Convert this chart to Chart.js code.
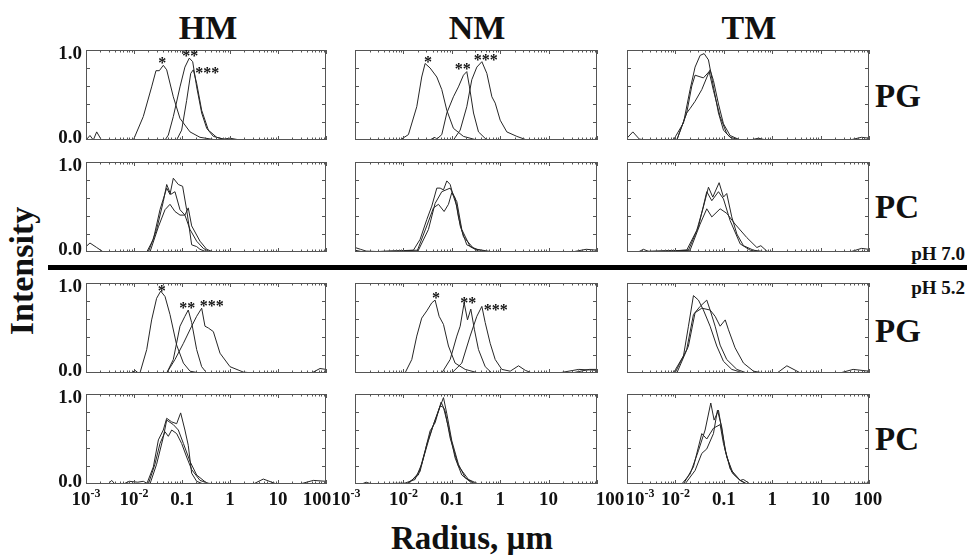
<!DOCTYPE html>
<html>
<head>
<meta charset="utf-8">
<script src="https://cdn.jsdelivr.net/npm/chart.js@4/dist/chart.umd.min.js"></script>
<style>
body { margin:0; background:#fff; }
#fig { position:relative; width:967px; height:555px; overflow:hidden; font-family:"Liberation Serif","Times New Roman",serif; font-weight:bold; color:#111; }
#fig canvas { position:absolute; }
.lbl { position:absolute; transform:translate(-50%,-50%); white-space:nowrap; line-height:1; }
.side { position:absolute; transform:translate(0,-50%); white-space:nowrap; line-height:1; font-size:33px; }
.ph { position:absolute; right:2px; transform:translate(0,-50%); white-space:nowrap; line-height:1; font-size:19px; }
</style>
</head>
<body>
<div id="fig">
  <div class="lbl" style="left:208px;top:28px;font-size:34px">HM</div>
  <div class="lbl" style="left:477px;top:28px;font-size:34px">NM</div>
  <div class="lbl" style="left:749px;top:28px;font-size:34px">TM</div>
  <div class="side" style="left:875px;top:96px">PG</div>
  <div class="side" style="left:875px;top:207px">PC</div>
  <div class="side" style="left:875px;top:331px">PG</div>
  <div class="side" style="left:875px;top:439px">PC</div>
  <div class="ph" style="top:253px">pH 7.0</div>
  <div class="ph" style="top:287px">pH 5.2</div>
  <div style="position:absolute;left:48px;top:265px;width:919px;height:5px;background:#000"></div>
  <div class="lbl" style="left:22px;top:271px;font-size:34px;transform:translate(-50%,-50%) rotate(-90deg)">Intensity</div>
  <div class="lbl" style="left:472px;top:538px;font-size:33px">Radius, µm</div>
</div>
<script>
// radius (um) vs intensity
// pH 7.0
const hmPg7a = [[0.001,0],[0.00121,0.05],[0.00142,0],[0.00167,0.09],[0.0021,0],[0.0097,0],[0.0156,0.26],[0.0233,0.59],[0.0287,0.77],[0.0337,0.77],[0.0408,0.83],[0.048,0.78],[0.0659,0.48],[0.0908,0.24],[0.147,0.09],[0.237,0.03],[0.527,0],[100,0]];
const hmPg7b = [[0.001,0],[0.0443,0],[0.0519,0.055],[0.0659,0.26],[0.0908,0.59],[0.115,0.81],[0.142,0.91],[0.167,0.87],[0.202,0.59],[0.257,0.30],[0.327,0.13],[0.45,0.04],[0.853,0],[100,0]];
const hmPg7c = [[0.001,0],[0.0774,0],[0.0984,0.11],[0.125,0.44],[0.152,0.74],[0.172,0.78],[0.202,0.63],[0.257,0.33],[0.354,0.11],[0.527,0.03],[0.726,0.01],[1.0,0.02],[1.61,0],[100,0]];

const nmPg7a = [[0.001,0],[0.00853,0],[0.0127,0.06],[0.0189,0.37],[0.0239,0.70],[0.0281,0.85],[0.0356,0.80],[0.049,0.70],[0.0621,0.56],[0.0789,0.33],[0.108,0.13],[0.174,0.04],[0.329,0],[100,0]];
const nmPg7b = [[0.001,0],[0.035,0],[0.045,0.03],[0.049,0.01],[0.0621,0.06],[0.0789,0.30],[0.108,0.48],[0.137,0.59],[0.174,0.72],[0.204,0.76],[0.232,0.59],[0.281,0.30],[0.356,0.09],[0.53,0],[100,0]];
const nmPg7c = [[0.001,0],[0.108,0],[0.149,0.11],[0.204,0.37],[0.259,0.67],[0.329,0.81],[0.418,0.87],[0.53,0.74],[0.673,0.48],[0.789,0.41],[1.0,0.22],[1.37,0.09],[2.21,0.04],[3.56,0],[100,0]];

const tmPg7a = [[0.001,0.02],[0.00132,0.09],[0.0018,0.01],[0.0025,0],[0.0091,0],[0.0147,0.19],[0.0201,0.56],[0.0255,0.81],[0.0324,0.94],[0.0392,0.96],[0.0482,0.89],[0.0611,0.59],[0.0776,0.30],[0.0984,0.11],[0.135,0.03],[0.218,0],[100,0]];
const tmPg7b = [[0.001,0],[0.0107,0],[0.0171,0.30],[0.0218,0.60],[0.0255,0.72],[0.0379,0.69],[0.0498,0.76],[0.0611,0.55],[0.084,0.26],[0.115,0.07],[0.158,0],[0.35,0],[0.52,0.02],[0.75,0],[40,0],[70,0.03],[100,0.02]];
const tmPg7c = [[0.001,0],[0.0107,0],[0.0171,0.30],[0.0201,0.35],[0.0255,0.43],[0.0351,0.56],[0.0482,0.74],[0.0521,0.78],[0.0611,0.66],[0.0776,0.40],[0.0984,0.18],[0.135,0.05],[0.218,0],[100,0]];

const hmPc7a = [[0.001,0.06],[0.00121,0.10],[0.00167,0.05],[0.0023,0],[0.0184,0],[0.0253,0.14],[0.0348,0.47],[0.048,0.71],[0.0562,0.64],[0.0659,0.82],[0.0839,0.75],[0.103,0.73],[0.125,0.47],[0.159,0.08],[0.202,0.06],[0.237,0.03],[0.327,0],[100,0]];
const hmPc7b = [[0.001,0],[0.0199,0],[0.0296,0.25],[0.0408,0.56],[0.048,0.75],[0.0581,0.64],[0.0714,0.67],[0.0908,0.47],[0.115,0.41],[0.135,0.49],[0.159,0.29],[0.237,0.12],[0.327,0.03],[0.45,0],[60,0],[100,0.01]];
const hmPc7c = [[0.001,0],[0.0215,0],[0.0322,0.28],[0.0443,0.47],[0.0562,0.53],[0.0714,0.45],[0.0908,0.41],[0.115,0.41],[0.147,0.25],[0.202,0.12],[0.278,0.04],[0.383,0],[100,0]];

const nmPc7a = [[0.001,0.05],[0.0013,0.03],[0.0017,0.01],[0.003,0.005],[0.0161,0.02],[0.0221,0.14],[0.0304,0.36],[0.0386,0.51],[0.049,0.71],[0.0574,0.71],[0.0673,0.69],[0.0789,0.79],[0.0925,0.75],[0.108,0.62],[0.127,0.51],[0.149,0.29],[0.204,0.08],[0.329,0.03],[0.728,0],[100,0]];
const nmPc7b = [[0.001,0],[0.0189,0],[0.0304,0.29],[0.0418,0.49],[0.053,0.53],[0.0694,0.45],[0.0853,0.53],[0.1,0.66],[0.127,0.56],[0.161,0.25],[0.239,0.06],[0.386,0],[30,0],[60,0.03],[100,0.02]];
const nmPc7c = [[0.001,0.02],[0.0015,0],[0.0204,0.02],[0.0329,0.25],[0.0452,0.54],[0.0621,0.67],[0.0925,0.71],[0.117,0.60],[0.137,0.39],[0.174,0.17],[0.281,0.04],[0.53,0],[100,0]];

const tmPc7a = [[0.001,0],[0.0017,0],[0.00218,0.03],[0.003,0],[0.0171,0.02],[0.0276,0.24],[0.0379,0.50],[0.0482,0.72],[0.0592,0.61],[0.080,0.77],[0.0984,0.61],[0.115,0.65],[0.146,0.39],[0.186,0.20],[0.255,0.07],[0.411,0.02],[0.776,0],[100,0]];
const tmPc7b = [[0.001,0],[0.0186,0.02],[0.0299,0.28],[0.0445,0.67],[0.0565,0.57],[0.0776,0.67],[0.0984,0.59],[0.135,0.35],[0.218,0.09],[0.351,0.02],[0.565,0],[40,0],[70,0.04],[100,0.03]];
const tmPc7c = [[0.001,0],[0.0201,0.02],[0.0324,0.31],[0.0445,0.48],[0.0565,0.39],[0.084,0.48],[0.115,0.43],[0.171,0.31],[0.299,0.16],[0.482,0.05],[0.583,0.07],[0.776,0.01],[0.881,0],[100,0]];

// pH 5.2
const hmPg5a = [[0.001,0],[0.0089,0],[0.0105,0.03],[0.0123,0],[0.0133,0],[0.0184,0.26],[0.0233,0.59],[0.0296,0.83],[0.036,0.91],[0.0443,0.85],[0.0562,0.65],[0.0774,0.31],[0.107,0.11],[0.147,0.02],[0.237,0],[100,0]];
const hmPg5b = [[0.001,0],[0.048,0],[0.0659,0.15],[0.0908,0.52],[0.115,0.63],[0.135,0.70],[0.159,0.56],[0.202,0.26],[0.257,0.07],[0.327,0],[100,0]];
const hmPg5c = [[0.001,0],[0.048,0],[0.0714,0.15],[0.107,0.33],[0.159,0.52],[0.202,0.63],[0.257,0.72],[0.301,0.52],[0.354,0.50],[0.45,0.46],[0.619,0.22],[1.0,0.07],[1.9,0.01],[3.06,0],[50,0],[75,0.05],[100,0.04]];

const nmPg5a = [[0.001,0],[0.0108,0],[0.0149,0.15],[0.0189,0.41],[0.0239,0.61],[0.0304,0.69],[0.0386,0.78],[0.0452,0.81],[0.0547,0.63],[0.0673,0.54],[0.0853,0.30],[0.117,0.11],[0.189,0.04],[0.356,0],[100,0]];
const nmPg5b = [[0.001,0],[0.0621,0],[0.0925,0.15],[0.127,0.41],[0.149,0.52],[0.180,0.78],[0.211,0.59],[0.247,0.71],[0.294,0.48],[0.356,0.26],[0.49,0.07],[0.673,0],[16,0],[42,0.04],[100,0.03]];
const nmPg5c = [[0.001,0],[0.1,0],[0.161,0.11],[0.239,0.41],[0.329,0.63],[0.418,0.74],[0.49,0.56],[0.621,0.33],[0.789,0.15],[1.08,0.04],[1.61,0.02],[2.39,0.08],[3.29,0.03],[4.52,0],[30,0],[70,0.04],[100,0.04]];

const tmPg5a = [[0.001,0],[0.0091,0],[0.0147,0.19],[0.0186,0.52],[0.0236,0.86],[0.0299,0.81],[0.0379,0.70],[0.0521,0.52],[0.0716,0.30],[0.0984,0.13],[0.146,0.04],[0.255,0],[100,0]];
const tmPg5b = [[0.001,0],[0.0098,0],[0.0171,0.26],[0.0236,0.65],[0.0324,0.74],[0.0445,0.81],[0.0521,0.70],[0.0662,0.52],[0.084,0.31],[0.115,0.15],[0.186,0.04],[0.299,0],[1.26,0],[2.01,0.08],[3.85,0],[25,0],[47,0.04],[100,0.02]];
const tmPg5c = [[0.001,0],[0.0107,0],[0.0186,0.30],[0.0255,0.67],[0.0351,0.72],[0.0521,0.70],[0.0662,0.63],[0.084,0.52],[0.107,0.59],[0.125,0.48],[0.171,0.28],[0.255,0.11],[0.411,0.02],[0.662,0],[100,0]];

const hmPc5a = [[0.001,0],[0.0029,0],[0.00343,0.04],[0.004,0],[0.0184,0],[0.0253,0.19],[0.0322,0.49],[0.0408,0.60],[0.048,0.73],[0.061,0.69],[0.0774,0.67],[0.0938,0.79],[0.115,0.60],[0.135,0.43],[0.159,0.12],[0.202,0.03],[0.278,0],[100,0]];
const hmPc5b = [[0.001,0],[0.006,0],[0.008,0.03],[0.012,0.02],[0.0156,0.03],[0.0199,0],[0.0273,0.22],[0.0348,0.45],[0.0443,0.58],[0.0519,0.53],[0.061,0.60],[0.0774,0.56],[0.0984,0.45],[0.125,0.30],[0.159,0.16],[0.237,0.04],[0.383,0],[3.06,0],[4.94,0.055],[9.38,0],[100,0]];
const hmPc5c = [[0.001,0],[0.0215,0],[0.0296,0.22],[0.0408,0.52],[0.048,0.71],[0.0659,0.66],[0.0839,0.60],[0.107,0.45],[0.147,0.25],[0.202,0.10],[0.327,0.01],[0.5,0],[28.7,0],[54.5,0.04],[100,0.03]];

const nmPc5a = [[0.001,0],[0.00138,0],[0.0017,0.02],[0.0022,0],[0.0108,0.01],[0.0174,0.05],[0.0239,0.22],[0.0329,0.48],[0.0418,0.66],[0.053,0.81],[0.0673,0.96],[0.0789,0.78],[0.1,0.48],[0.137,0.22],[0.189,0.07],[0.304,0],[100,0]];
const nmPc5b = [[0.001,0],[0.0117,0],[0.0204,0.10],[0.0281,0.37],[0.0356,0.59],[0.0452,0.68],[0.0601,0.91],[0.0728,0.81],[0.0925,0.51],[0.137,0.20],[0.221,0.05],[0.356,0],[100,0]];
const nmPc5c = [[0.001,0],[0.0127,0],[0.0221,0.14],[0.0304,0.44],[0.0418,0.66],[0.0574,0.87],[0.0673,0.85],[0.0853,0.63],[0.117,0.29],[0.161,0.10],[0.259,0.01],[0.4,0],[100,0]];

const tmPc5a = [[0.001,0],[0.0135,0],[0.0201,0.11],[0.0299,0.37],[0.0411,0.60],[0.0538,0.90],[0.0631,0.71],[0.0776,0.82],[0.091,0.60],[0.115,0.30],[0.158,0.11],[0.218,0.04],[0.299,0],[100,0]];
const tmPc5b = [[0.001,0],[0.0147,0],[0.0236,0.19],[0.0351,0.56],[0.0445,0.50],[0.0611,0.62],[0.084,0.66],[0.0984,0.45],[0.135,0.17],[0.218,0.04],[0.299,0],[47,0],[100,0.01]];
const tmPc5c = [[0.001,0],[0.0158,0],[0.0255,0.15],[0.0351,0.34],[0.0445,0.39],[0.0611,0.56],[0.0739,0.82],[0.091,0.63],[0.107,0.37],[0.146,0.13],[0.218,0.04],[0.255,0.05],[0.351,0],[100,0]];

// axis ticks
const xTickValues = [0.001, 0.01, 0.1, 1, 10, 100];
const xTickText = ['10', '10', '0.1', '1', '10', '100'];
const xTickExp = ['-3', '-2', '', '', '', ''];
const yTickValues = [0, 1];
const yTickText = ['0.0', '1.0'];

// layout
const COLS = [{left: 86, width: 240}, {left: 355, width: 242}, {left: 627, width: 242}];
const ROWS = [{top: 50, height: 90}, {top: 162, height: 90}, {top: 283, height: 90}, {top: 394, height: 90}];
const PAD = {left: 52, right: 40, top: 8, bottom: 30};
const edgeShift = [[0, -9], [-9, 13], [13, -1]];
const FONT = '"Liberation Serif","Times New Roman",serif';

const grid = [
  [[hmPg7a, hmPg7b, hmPg7c], [nmPg7a, nmPg7b, nmPg7c], [tmPg7a, tmPg7b, tmPg7c]],
  [[hmPc7a, hmPc7b, hmPc7c], [nmPc7a, nmPc7b, nmPc7c], [tmPc7a, tmPc7b, tmPc7c]],
  [[hmPg5a, hmPg5b, hmPg5c], [nmPg5a, nmPg5b, nmPg5c], [tmPg5a, tmPg5b, tmPg5c]],
  [[hmPc5a, hmPc5b, hmPc5c], [nmPc5a, nmPc5b, nmPc5c], [tmPc5a, tmPc5b, tmPc5c]]
];

// asterisk marks: [text, series, dx, dy] relative to the series peak
const stars = {
  '0-0': [['*', 0, -1, -5], ['**', 1, 1, -5], ['***', 2, 14, 0]],
  '0-1': [['*', 0, 3, -4], ['**', 1, -4, -5], ['***', 2, 4, -4]],
  '2-0': [['*', 0, 1, -3], ['**', 1, -1, -5], ['***', 2, 10, -5]],
  '2-1': [['*', 0, 1, -5], ['**', 1, 4, -3], ['***', 2, 14, 1]]
};

function drawXLabels(chart, col) {
  const ctx = chart.ctx, a = chart.chartArea, xs = chart.scales.x;
  ctx.save();
  ctx.fillStyle = '#111';
  ctx.textAlign = 'left';
  ctx.textBaseline = 'alphabetic';
  for (let i = 0; i < xTickValues.length; i++) {
    ctx.font = 'bold 19px ' + FONT;
    const w1 = ctx.measureText(xTickText[i]).width;
    ctx.font = 'bold 12px ' + FONT;
    const w2 = xTickExp[i] ? ctx.measureText(xTickExp[i]).width : 0;
    let shift = 0;
    if (i === 0) shift = edgeShift[col][0];
    if (i === xTickValues.length - 1) shift = edgeShift[col][1];
    const x0 = xs.getPixelForValue(xTickValues[i]) - (w1 + w2) / 2 + shift;
    ctx.font = 'bold 19px ' + FONT;
    ctx.fillText(xTickText[i], x0, a.bottom + 21);
    if (xTickExp[i]) {
      ctx.font = 'bold 12px ' + FONT;
      ctx.fillText(xTickExp[i], x0 + w1, a.bottom + 13);
    }
  }
  ctx.restore();
}

const framePlugin = {
  id: 'frame',
  afterDraw(chart) {
    const cfg = chart.config.options.frameCfg;
    const ctx = chart.ctx, a = chart.chartArea;
    const xs = chart.scales.x, ys = chart.scales.y;
    ctx.save();
    ctx.strokeStyle = '#555';
    ctx.lineWidth = 1;
    ctx.strokeRect(a.left + 0.5, a.top + 0.5, a.right - a.left - 1, a.bottom - a.top - 1);
    ctx.beginPath();
    for (let d = -3; d <= 2; d++) {
      for (let k = 1; k <= 9; k++) {
        const v = k * Math.pow(10, d);
        if (v > 100.001) break;
        const px = Math.round(xs.getPixelForValue(v)) + 0.5;
        const len = k === 1 ? 4 : 2.5;
        ctx.moveTo(px, a.top); ctx.lineTo(px, a.top + len);
        ctx.moveTo(px, a.bottom); ctx.lineTo(px, a.bottom - len);
      }
    }
    [0.2, 0.4, 0.6, 0.8].forEach(v => {
      const py = Math.round(ys.getPixelForValue(v)) + 0.5;
      ctx.moveTo(a.left, py); ctx.lineTo(a.left + 4, py);
      ctx.moveTo(a.right, py); ctx.lineTo(a.right - 4, py);
    });
    ctx.stroke();
    ctx.restore();

    if (cfg.showX) drawXLabels(chart, cfg.col);

    ctx.save();
    ctx.fillStyle = '#111';
    if (cfg.showY) {
      ctx.font = 'bold 19px ' + FONT;
      ctx.textAlign = 'right';
      ctx.textBaseline = 'alphabetic';
      yTickValues.forEach((v, i) => {
        const py = ys.getPixelForValue(v);
        ctx.fillText(yTickText[i], a.left - 4, v === 0 ? py + 3 : py + 9);
      });
    }
    (cfg.marks || []).forEach(m => {
      const meta = chart.getDatasetMeta(m[1]);
      const data = chart.data.datasets[m[1]].data;
      let best = 0;
      data.forEach((p, j) => { if (p[1] > data[best][1]) best = j; });
      const el = meta.data[best];
      ctx.font = 'bold 16px ' + FONT;
      ctx.textAlign = 'center';
      ctx.textBaseline = 'alphabetic';
      ctx.fillText(m[0], el.x + m[2], el.y + m[3] + 7.7);
    });
    ctx.restore();
  }
};

const fig = document.getElementById('fig');
grid.forEach((rowSeries, r) => {
  rowSeries.forEach((series, c) => {
    const col = COLS[c], row = ROWS[r];
    const cv = document.createElement('canvas');
    const w = col.width + PAD.left + PAD.right;
    const h = row.height + PAD.top + PAD.bottom;
    cv.width = w; cv.height = h;
    cv.style.left = (col.left - PAD.left) + 'px';
    cv.style.top = (row.top - PAD.top) + 'px';
    cv.style.width = w + 'px';
    cv.style.height = h + 'px';
    fig.appendChild(cv);

    new Chart(cv.getContext('2d'), {
      type: 'line',
      data: {
        datasets: series.map(s => ({
          data: s,
          borderColor: '#262626',
          borderWidth: 1,
          pointRadius: 0,
          tension: 0,
          fill: false
        }))
      },
      options: {
        responsive: false,
        maintainAspectRatio: false,
        animation: false,
        devicePixelRatio: 1,
        frameCfg: { showX: r === 3, showY: c === 0, col: c, marks: stars[r + '-' + c] },
        layout: { padding: PAD, autoPadding: false },
        plugins: {
          legend: { display: false },
          tooltip: { enabled: false }
        },
        scales: {
          x: { type: 'logarithmic', min: 0.001, max: 100, display: false },
          y: { type: 'linear', min: 0, max: 1, display: false }
        }
      },
      plugins: [framePlugin]
    });
  });
});
</script>
</body>
</html>
